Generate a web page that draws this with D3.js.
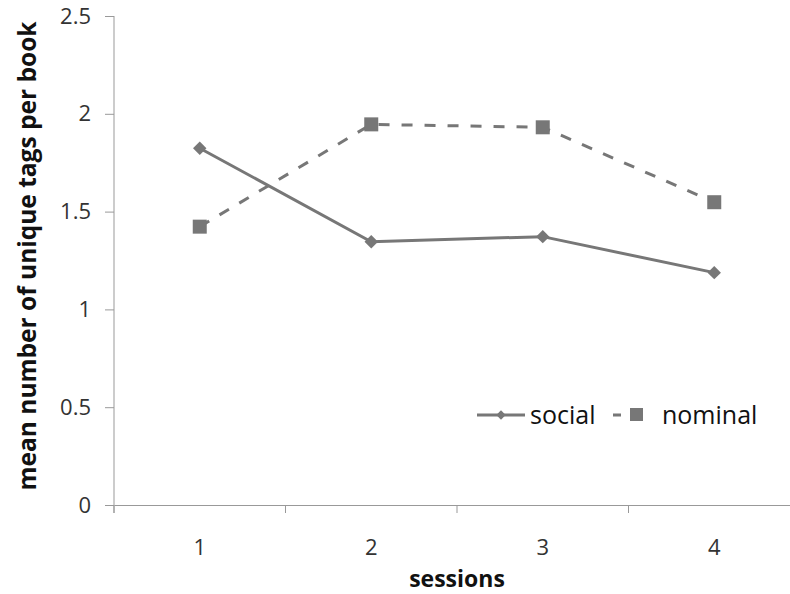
<!DOCTYPE html>
<html>
<head>
<meta charset="utf-8">
<script src="https://cdn.jsdelivr.net/npm/d3@7"></script>
<style>
  body { margin: 0; background: #fff; }
  svg { display: block; font-family: 'Open Sans', sans-serif; }
</style>
</head>
<body>
<div id="chart"></div>
<script>
// Chart data.
const sessions = ['1', '2', '3', '4']
const social = [1.824, 1.346, 1.372, 1.188]
const nominal = [1.423, 1.946, 1.931, 1.548]
const yTicks = [0, 0.5, 1, 1.5, 2, 2.5]

const width = 790, height = 594
const margin = {top: 16, right: -10, bottom: 89, left: 114}

const svg = d3.select('#chart')
  .append('svg')
    .attr('width', width)
    .attr('height', height)

const x = d3.scaleBand()
  .domain(sessions)
  .range([margin.left, width - margin.right])

const y = d3.scaleLinear()
  .domain([0, 2.5])
  .range([height - margin.bottom, margin.top])

// Y axis.
const yAxis = svg.append('g')
  .attr('transform', 'translate(' + margin.left + ',0)')
  .call(d3.axisLeft(y).tickValues(yTicks).tickSize(9).tickPadding(14)
    .tickFormat(d => String(d)))
yAxis.select('.domain').attr('stroke', '#999').attr('d',
  'M0,' + margin.top + 'V' + (height - margin.bottom + 8))
yAxis.selectAll('line').attr('stroke', '#999')
yAxis.selectAll('text').attr('fill', '#333')
  .style('font-size', '22px').style('font-family', "'Open Sans', sans-serif")

// X axis.
const xAxis = svg.append('g')
  .attr('transform', 'translate(0,' + (height - margin.bottom) + ')')
  .call(d3.axisBottom(x).tickSize(0).tickPadding(34))
xAxis.select('.domain').attr('stroke', '#999')
xAxis.selectAll('text').attr('fill', '#333')
  .style('font-size', '22px').style('font-family', "'Open Sans', sans-serif")

// Band boundary ticks.
svg.append('g')
  .selectAll('line')
  .data(sessions)
  .join('line')
    .attr('x1', d => x(d))
    .attr('x2', d => x(d))
    .attr('y1', height - margin.bottom)
    .attr('y2', height - margin.bottom + 8)
    .attr('stroke', '#999')

// Axis titles.
svg.append('text')
  .attr('x', x('2') + x.bandwidth())
  .attr('y', 587)
  .attr('text-anchor', 'middle')
  .attr('fill', '#111')
  .style('font-size', '23px')
  .style('font-weight', 'bold')
  .text('sessions')

svg.append('text')
  .attr('transform', 'translate(36,256) rotate(-90)')
  .attr('text-anchor', 'middle')
  .attr('fill', '#111')
  .style('font-size', '24.5px')
  .style('font-weight', 'bold')
  .text('mean number of unique tags per book')

const cx = d => x(d) + x.bandwidth() / 2
const line = d3.line().x(d => cx(d[0])).y(d => y(d[1]))
const grey = '#777'

// Social series.
svg.append('path')
  .datum(sessions.map((s, i) => [s, social[i]]))
  .attr('d', line)
  .attr('fill', 'none')
  .attr('stroke', grey)
  .attr('stroke-width', 3)

svg.append('g')
  .selectAll('path')
  .data(sessions.map((s, i) => [s, social[i]]))
  .join('path')
    .attr('d', d3.symbol(d3.symbolDiamond2, 115))
    .attr('transform', d => 'translate(' + cx(d[0]) + ',' + y(d[1]) + ')')
    .attr('fill', grey)

// Nominal series.
svg.append('path')
  .datum(sessions.map((s, i) => [s, nominal[i]]))
  .attr('d', line)
  .attr('fill', 'none')
  .attr('stroke', grey)
  .attr('stroke-width', 3)
  .attr('stroke-dasharray', '11,12')

svg.append('g')
  .selectAll('rect')
  .data(sessions.map((s, i) => [s, nominal[i]]))
  .join('rect')
    .attr('x', d => cx(d[0]) - 7)
    .attr('y', d => y(d[1]) - 7)
    .attr('width', 14)
    .attr('height', 14)
    .attr('fill', grey)

// Legend.
const legend = svg.append('g').attr('transform', 'translate(0,415)')
legend.append('line')
  .attr('x1', 477).attr('x2', 525)
  .attr('stroke', grey).attr('stroke-width', 3)
legend.append('path')
  .attr('d', d3.symbol(d3.symbolDiamond2, 56))
  .attr('transform', 'translate(501,0)')
  .attr('fill', grey)
legend.append('text')
  .attr('x', 530).attr('y', 9)
  .attr('fill', '#111')
  .style('font-size', '25px')
  .text('social')

legend.append('line')
  .attr('x1', 613).attr('x2', 649)
  .attr('stroke', grey).attr('stroke-width', 3)
  .attr('stroke-dasharray', '8,10')
legend.append('rect')
  .attr('x', 630).attr('y', -7)
  .attr('width', 13).attr('height', 13)
  .attr('fill', grey)
legend.append('text')
  .attr('x', 662).attr('y', 9)
  .attr('fill', '#111')
  .style('font-size', '25px')
  .text('nominal')
</script>
</body>
</html>
